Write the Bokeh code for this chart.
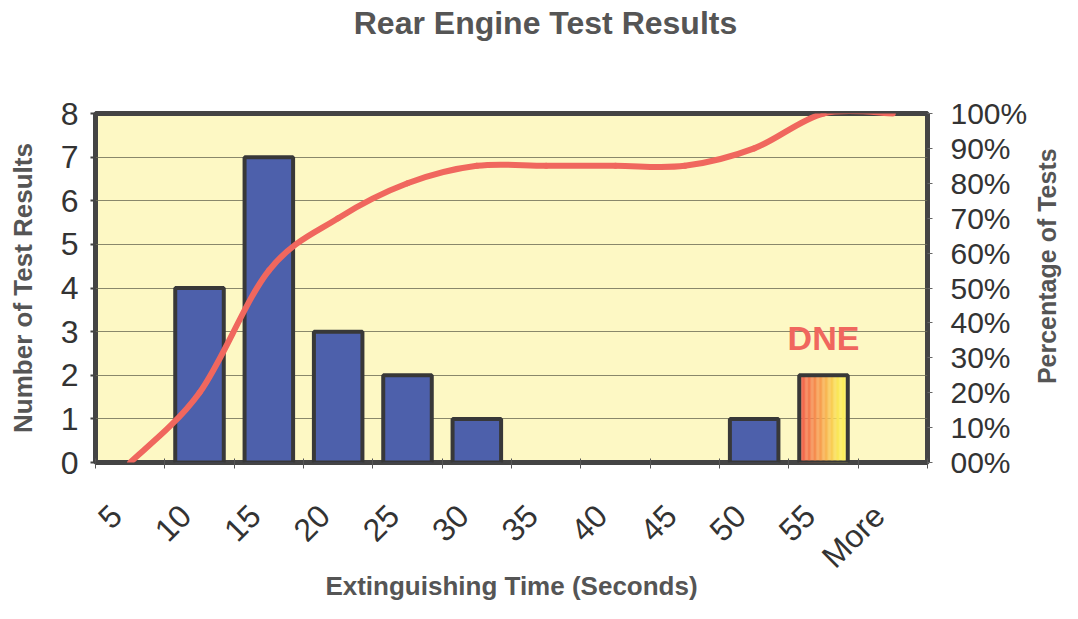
import math
from bokeh.plotting import figure
from bokeh.layouts import row, column
from bokeh.models import Range1d, LinearAxis, FixedTicker, Label, ColumnDataSource
from bokeh.embed import file_html
from bokeh.resources import INLINE
from bokeh.core.properties import value

# ---------------- data ----------------
categories = ["5", "10", "15", "20", "25", "30", "35", "40", "45", "50", "55", "More"]
counts = [0, 4, 7, 3, 2, 1, 0, 0, 0, 1, 2, 0]
cum_pct = [0, 20, 55, 70, 80, 85, 85, 85, 85, 90, 100, 100]
dne_category = "55"
left_ticks = [0, 1, 2, 3, 4, 5, 6, 7, 8]
right_ticks = [0, 10, 20, 30, 40, 50, 60, 70, 80, 90, 100]
right_tick_labels = ["00%", "10%", "20%", "30%", "40%", "50%", "60%", "70%", "80%", "90%", "100%"]

TITLE = "Rear Engine Test Results"
X_TITLE = "Extinguishing Time (Seconds)"
Y_TITLE = "Number of Test Results"
Y2_TITLE = "Percentage of Tests"

FONT = "Liberation Sans"
n = len(categories)
xc = [i + 0.5 for i in range(n)]
ymax = left_ticks[-1]

W_TOTAL, H_TOTAL = 1062, 603
H_TITLE = 50
W_SIDE = 32
W_MAIN = W_TOTAL - W_SIDE
H = H_TOTAL - H_TITLE


def blank(fig):
    fig.axis.visible = False
    fig.grid.visible = False
    fig.outline_line_color = None
    fig.background_fill_color = "white"
    fig.border_fill_color = "white"


# ---------------- title strip ----------------
t = figure(width=W_TOTAL, height=H_TITLE, output_backend="svg", toolbar_location=None,
           x_range=Range1d(0, W_TOTAL), y_range=Range1d(0, H_TITLE), min_border=0)
blank(t)
t.text(x=[545], y=[H_TITLE - 22], text=[TITLE], text_align="center", text_baseline="middle",
       text_font=value(FONT), text_font_size="32px", text_font_style="bold", text_color="#555555")

# ---------------- main chart ----------------
p = figure(width=W_MAIN, height=H, output_backend="svg", toolbar_location=None,
           x_range=Range1d(0, n), y_range=Range1d(0, ymax),
           min_border_left=95, min_border_right=W_MAIN - 930,
           min_border_top=113 - H_TITLE, min_border_bottom=H_TOTAL - 465)

p.background_fill_color = "#fdf8c4"
p.border_fill_color = "white"
p.outline_line_color = "#444444"
p.outline_line_width = 5

p.extra_y_ranges = {"pct": Range1d(0, 100)}

# grid
p.xgrid.grid_line_color = None
p.ygrid.ticker = FixedTicker(ticks=left_ticks)
p.ygrid.grid_line_color = "#6b6b55"
p.ygrid.grid_line_width = 1
p.ygrid.grid_line_alpha = 0.8

# left axis
ya = p.yaxis[0]
ya.ticker = FixedTicker(ticks=left_ticks)
ya.axis_line_color = None
ya.major_tick_out = 5
ya.major_tick_in = 0
ya.major_tick_line_color = "#444444"
ya.major_tick_line_width = 2
ya.minor_tick_line_color = None
ya.major_label_text_font = FONT
ya.major_label_text_font_size = "32px"
ya.major_label_text_color = "#333333"
ya.major_label_standoff = 12
ya.axis_label = Y_TITLE
ya.axis_label_text_font = FONT
ya.axis_label_text_font_size = "26px"
ya.axis_label_text_font_style = "bold"
ya.axis_label_text_color = "#555555"
ya.axis_label_standoff = 20

# right axis
ra = LinearAxis(y_range_name="pct", ticker=FixedTicker(ticks=right_ticks),
                major_label_overrides={tk: lb for tk, lb in zip(right_ticks, right_tick_labels)})
ra.axis_line_color = None
ra.major_tick_out = 5
ra.major_tick_in = 0
ra.major_tick_line_color = "#666666"
ra.minor_tick_line_color = None
ra.major_label_text_font = FONT
ra.major_label_text_font_size = "30px"
ra.major_label_text_color = "#333333"
ra.major_label_standoff = 18
p.add_layout(ra, "right")

# bottom axis
label_shift = 0.2
xt = [c - label_shift for c in xc]
xa = p.xaxis[0]
xa.ticker = FixedTicker(ticks=xt, minor_ticks=list(range(n + 1)))
xa.major_label_overrides = {tk: c for tk, c in zip(xt, categories)}
xa.major_label_orientation = math.pi / 4
xa.axis_line_color = None
xa.major_tick_line_color = None
xa.major_tick_out = 0
xa.major_tick_in = 0
xa.minor_tick_line_color = "#555555"
xa.minor_tick_out = 6
xa.minor_tick_in = 4
xa.major_label_text_font = FONT
xa.major_label_text_font_size = "32px"
xa.major_label_text_color = "#333333"
xa.major_label_standoff = 42
xa.axis_label = X_TITLE
xa.axis_label_text_font = FONT
xa.axis_label_text_font_size = "26px"
xa.axis_label_text_font_style = "bold"
xa.axis_label_text_color = "#555555"
xa.axis_label_standoff = -20

# bars (regular)
bar_w = 0.7
reg = [(x, c) for x, c, cat in zip(xc, counts, categories) if c > 0 and cat != dne_category]
p.vbar(x=[r[0] for r in reg], top=[r[1] for r in reg], width=bar_w, bottom=0,
       fill_color="#4d60ab", line_color="#383838", line_width=4)

# DNE bar with horizontal gradient
di = categories.index(dne_category)
stops = [(0.0, (242, 92, 78)), (0.45, (247, 160, 80)), (0.8, (250, 232, 88)), (1.0, (252, 240, 96))]


def grad(f_pos):
    for (t0, c0), (t1, c1) in zip(stops[:-1], stops[1:]):
        if t0 <= f_pos <= t1:
            f = (f_pos - t0) / (t1 - t0)
            return "#%02x%02x%02x" % tuple(int(round(a + (b - a) * f)) for a, b in zip(c0, c1))
    return "#%02x%02x%02x" % stops[-1][1]


ns = 40
sw = bar_w / ns
left = xc[di] - bar_w / 2
sx = [left + (k + 0.5) * sw for k in range(ns)]
p.vbar(x=sx, top=[counts[di]] * ns, width=sw * 1.05, bottom=0,
       fill_color=[grad((k + 0.5) / ns) for k in range(ns)], line_color=None)
p.vbar(x=[xc[di]], top=[counts[di]], width=bar_w, bottom=0,
       fill_color=None, line_color="#383838", line_width=4)

# smoothed cumulative line
x0, y0, x1, y1, cx0, cy0, cx1, cy1 = [], [], [], [], [], [], [], []
for i in range(n - 1):
    a = max(i - 1, 0)
    b = min(i + 2, n - 1)
    x0.append(xc[i]); y0.append(cum_pct[i])
    x1.append(xc[i + 1]); y1.append(cum_pct[i + 1])
    cx0.append(xc[i] + (xc[i + 1] - xc[a]) / 6); cy0.append(cum_pct[i] + (cum_pct[i + 1] - cum_pct[a]) / 6)
    cx1.append(xc[i + 1] - (xc[b] - xc[i]) / 6); cy1.append(cum_pct[i + 1] - (cum_pct[b] - cum_pct[i]) / 6)
src = ColumnDataSource(dict(x0=x0, y0=y0, x1=x1, y1=y1, cx0=cx0, cy0=cy0, cx1=cx1, cy1=cy1))
p.bezier(x0="x0", y0="y0", x1="x1", y1="y1", cx0="cx0", cy0="cy0", cx1="cx1", cy1="cy1",
         source=src, y_range_name="pct", line_color="#f0675e", line_width=6, line_cap="round")

# DNE annotation
p.add_layout(Label(x=xc[di], y=2.85, text="DNE", text_align="center", text_baseline="middle",
                   text_font=FONT, text_font_size="34px", text_font_style="bold",
                   text_color="#f0675e"))

# ---------------- right-hand axis title strip (reads bottom to top) ----------------
s = figure(width=W_SIDE, height=H, output_backend="svg", toolbar_location=None,
           x_range=Range1d(0, W_SIDE), y_range=Range1d(0, H), min_border=0)
blank(s)
s.text(x=[W_SIDE / 2], y=[H_TOTAL - 292], text=[Y2_TITLE], angle=math.pi / 2, text_align="center",
       text_baseline="middle", text_font=value(FONT), text_font_size="25px",
       text_font_style="bold", text_color="#555555")

layout = column(t, row(p, s, spacing=0), spacing=0)
open("out.html", "w").write(file_html(layout, INLINE))
